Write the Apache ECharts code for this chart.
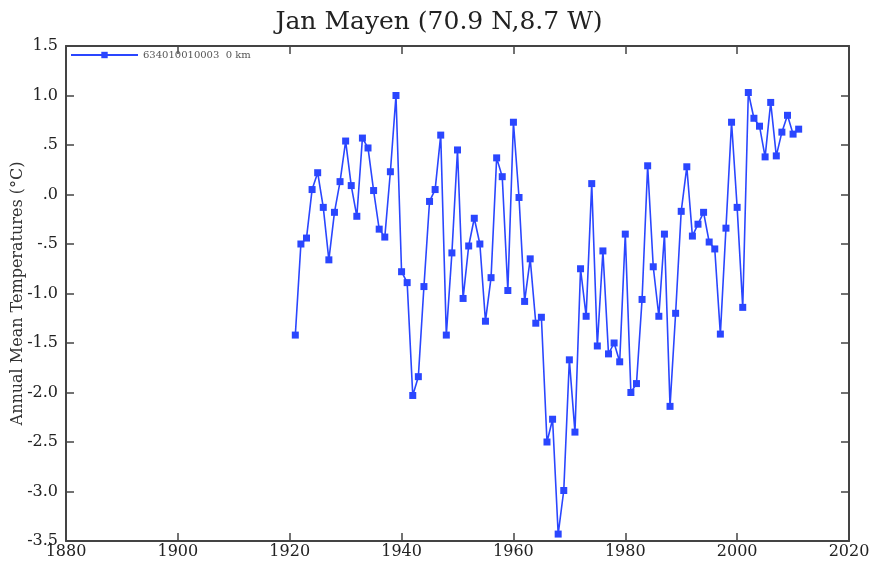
<!DOCTYPE html>
<html>
<head>
<meta charset="utf-8">
<script src="https://cdn.jsdelivr.net/npm/echarts@6/dist/echarts.min.js"></script>
<style>
html,body{margin:0;padding:0;background:#fff;}
#chart{width:878px;height:573px;}
</style>
</head>
<body>
<div id="chart"></div>
<script>
const titleText = 'Jan Mayen (70.9 N,8.7 W)';
const seriesName = '634010010003  0 km';
const yAxisTitle = 'Annual Mean Temperatures (°C)';

const years = [1921,1922,1923,1924,1925,1926,1927,1928,1929,1930,
  1931,1932,1933,1934,1935,1936,1937,1938,1939,1940,
  1941,1942,1943,1944,1945,1946,1947,1948,1949,1950,
  1951,1952,1953,1954,1955,1956,1957,1958,1959,1960,
  1961,1962,1963,1964,1965,1966,1967,1968,1969,1970,
  1971,1972,1973,1974,1975,1976,1977,1978,1979,1980,
  1981,1982,1983,1984,1985,1986,1987,1988,1989,1990,
  1991,1992,1993,1994,1995,1996,1997,1998,1999,2000,
  2001,2002,2003,2004,2005,2006,2007,2008,2009,2010,2011];

const temps = [-1.42,-0.50,-0.44,0.05,0.22,-0.13,-0.66,-0.18,0.13,0.54,
  0.09,-0.22,0.57,0.47,0.04,-0.35,-0.43,0.23,1.00,-0.78,
  -0.89,-2.03,-1.84,-0.93,-0.07,0.05,0.60,-1.42,-0.59,0.45,
  -1.05,-0.52,-0.24,-0.50,-1.28,-0.84,0.37,0.18,-0.97,0.73,
  -0.03,-1.08,-0.65,-1.30,-1.24,-2.50,-2.27,-3.43,-2.99,-1.67,
  -2.40,-0.75,-1.23,0.11,-1.53,-0.57,-1.61,-1.50,-1.69,-0.40,
  -2.00,-1.91,-1.06,0.29,-0.73,-1.23,-0.40,-2.14,-1.20,-0.17,
  0.28,-0.42,-0.30,-0.18,-0.48,-0.55,-1.41,-0.34,0.73,-0.13,
  -1.14,1.03,0.77,0.69,0.38,0.93,0.39,0.63,0.80,0.61,0.66];

const xMin = 1880, xMax = 2020, xStep = 20;
const yMin = -3.5, yMax = 1.5, yStep = 0.5;

const serif = '"DejaVu Serif","Liberation Serif",serif';
const axisColor = '#444';
const lineColor = '#2a46ff';

function fmtY(v) {
  let s = Math.abs(v).toFixed(1);
  if (s.startsWith('0')) s = s.slice(1);
  return (v < 0 ? '-' : '') + s;
}

const data = years.map((y, i) => [y, temps[i]]);

const chart = echarts.init(document.getElementById('chart'), null, {renderer: 'canvas'});
const axisLineStyle = {color: axisColor, width: 2};
const tickStyle = {show: true, inside: true, length: 8, lineStyle: {color: axisColor, width: 1.5}};
chart.setOption({
  animation: false,
  backgroundColor: '#fff',
  title: {
    text: titleText,
    left: 'center',
    top: 5,
    textStyle: {fontFamily: serif, fontSize: 25, fontWeight: 'normal', color: '#222'}
  },
  legend: {
    left: 70,
    top: 50,
    padding: 0,
    itemWidth: 67,
    itemHeight: 8,
    itemGap: 0,
    textStyle: {fontFamily: serif, fontSize: 10, color: '#555'},
    data: [seriesName]
  },
  grid: {left: 66, right: 29, top: 46, bottom: 32, containLabel: false, outerBoundsMode: 'none'},
  xAxis: [{
    type: 'value', min: xMin, max: xMax, interval: xStep,
    axisLine: {show: true, onZero: false, lineStyle: axisLineStyle},
    axisTick: tickStyle,
    axisLabel: {fontFamily: serif, fontSize: 16, color: '#222', margin: 3, formatter: v => String(v)},
    splitLine: {show: false}
  }, {
    type: 'value', position: 'top', min: xMin, max: xMax, interval: xStep,
    axisLine: {show: true, onZero: false, lineStyle: axisLineStyle},
    axisTick: tickStyle,
    axisLabel: {show: false},
    splitLine: {show: false}
  }],
  yAxis: [{
    type: 'value', min: yMin, max: yMax, interval: yStep,
    name: yAxisTitle,
    nameLocation: 'middle',
    nameGap: 40,
    nameRotate: 90,
    nameMoveOverlap: false,
    nameTextStyle: {fontFamily: serif, fontSize: 16, color: '#333'},
    axisLine: {show: true, onZero: false, lineStyle: axisLineStyle},
    axisTick: tickStyle,
    axisLabel: {fontFamily: serif, fontSize: 16, color: '#222', margin: 8, formatter: fmtY},
    splitLine: {show: false}
  }, {
    type: 'value', position: 'right', min: yMin, max: yMax, interval: yStep,
    axisLine: {show: true, onZero: false, lineStyle: axisLineStyle},
    axisTick: tickStyle,
    axisLabel: {show: false},
    splitLine: {show: false}
  }],
  series: [{
    name: seriesName,
    type: 'line',
    data: data,
    symbol: 'rect',
    symbolSize: 7,
    showAllSymbol: true,
    lineStyle: {color: lineColor, width: 1.6},
    itemStyle: {color: lineColor, borderWidth: 0}
  }]
});
</script>
</body>
</html>
